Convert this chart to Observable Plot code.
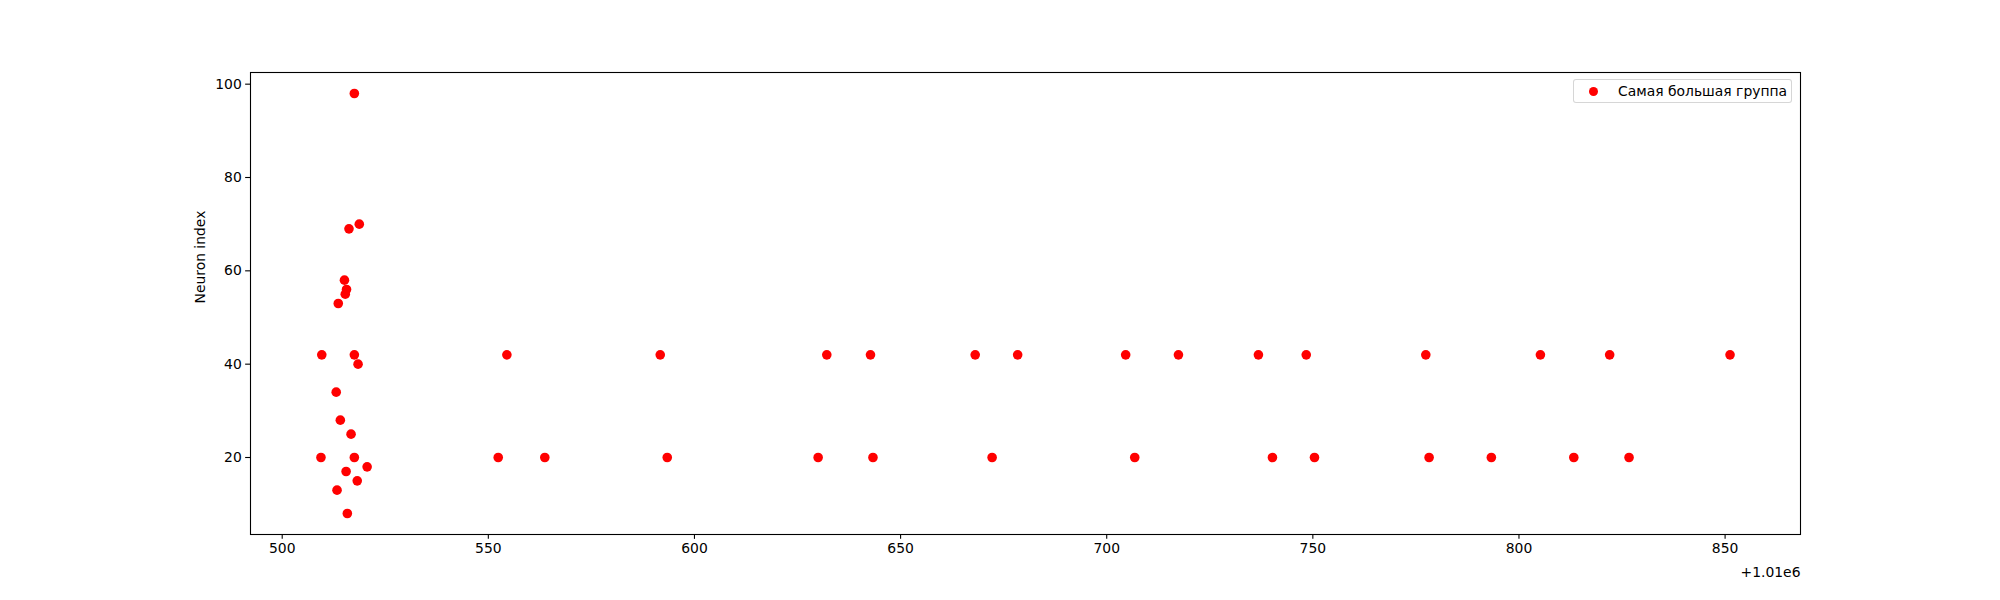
<!DOCTYPE html>
<html>
<head>
<meta charset="utf-8">
<script src="https://cdn.jsdelivr.net/npm/d3@7"></script>
<script src="https://cdn.jsdelivr.net/npm/@observablehq/plot@0.6"></script>
<style>
  html, body { margin: 0; padding: 0; background: #fff; }
  #wrap { position: relative; width: 2000px; height: 600px; font-family: "DejaVu Sans", sans-serif; }
  #legend {
    position: absolute; left: 1573px; top: 79px; width: 219px; height: 24px;
    border: 1px solid rgba(204,204,204,0.8); border-radius: 3px; background: rgba(255,255,255,0.8);
    box-sizing: border-box; font-size: 13.9px; color: #000;
  }
  #legend .sw { position: absolute; left: 14.7px; top: 6.7px; width: 9.6px; height: 9.6px; border-radius: 50%; background: #ff0000; }
  #legend .lb { position: absolute; left: 44px; top: 2px; white-space: nowrap; line-height: 18px; }
</style>
</head>
<body>
<div id="wrap"><div id="legend"><div class="sw"></div><div class="lb"></div></div></div>
<script>
// Time offset shown by the axis (+1.01e6)
const xOffset = 1.01e6;

// Relative spike times (x - 1.01e6) and neuron indices
const relTimes = [
  517.5, 518.7, 516.2, 515.1, 515.6, 515.3, 513.6, 509.6, 517.5, 518.4,
  513.1, 514.1, 516.7, 509.4, 517.5, 520.6, 515.5, 518.2, 513.3, 515.8,
  554.5, 591.7, 632.1, 642.7, 668.1, 678.4, 704.6, 717.4, 736.8, 748.4, 777.4, 805.2, 822.0, 851.2,
  552.4, 563.7, 593.4, 630.0, 643.3, 672.2, 706.8, 740.2, 750.4, 778.2, 793.3, 813.3, 826.7
];
const neurons = [
  98, 70, 69, 58, 56, 55, 53, 42, 42, 40,
  34, 28, 25, 20, 20, 18, 17, 15, 13, 8,
  42, 42, 42, 42, 42, 42, 42, 42, 42, 42, 42, 42, 42, 42,
  20, 20, 20, 20, 20, 20, 20, 20, 20, 20, 20, 20, 20
];

const xTickLabels = [500, 550, 600, 650, 700, 750, 800, 850];
const yTickLabels = [20, 40, 60, 80, 100];
const seriesName = "Самая большая группа";
const yLabel = "Neuron index";
const offsetLabel = "+1.01e6";

const data = relTimes.map((t, i) => ({ t: xOffset + t, n: neurons[i] }));

function padded(ext) {
  const r = ext[1] - ext[0];
  return [ext[0] - 0.05 * r, ext[1] + 0.05 * r];
}

const fs = 13.9;
const tick = 4.86;

const chart = Plot.plot({
  width: 2000,
  height: 600,
  marginLeft: 250,
  marginRight: 200,
  marginTop: 72,
  marginBottom: 66,
  style: { fontFamily: "DejaVu Sans", fontSize: fs + "px", color: "#000", background: "transparent" },
  x: { domain: padded(d3.extent(data, d => d.t)) },
  y: { domain: padded(d3.extent(data, d => d.n)) },
  marks: [
    Plot.axisX({
      ticks: xTickLabels.map(v => v + xOffset),
      tickFormat: d => String(Math.round(d - xOffset)),
      tickSize: tick, tickPadding: tick - 1, strokeWidth: 1.1,
      label: null, fontSize: fs
    }),
    Plot.axisY({
      ticks: yTickLabels,
      tickFormat: d => String(d),
      tickSize: tick, tickPadding: tick - 1, strokeWidth: 1.1,
      label: null, fontSize: fs
    }),
    Plot.dot(data, { x: "t", y: "n", r: 4.8, fill: "#ff0000", stroke: "none" }),
    Plot.frame({ stroke: "#000", strokeWidth: 1.1 }),
    Plot.text([yLabel], { frameAnchor: "left", rotate: -90, dx: -50, fontSize: fs, fill: "#000" }),
    Plot.text([offsetLabel], { frameAnchor: "bottom-right", textAnchor: "end", dy: 42, fontSize: fs, fill: "#000" })
  ]
});

const wrap = document.getElementById("wrap");
chart.style.position = "absolute";
chart.style.left = "0";
chart.style.top = "0";
wrap.insertBefore(chart, wrap.firstChild);
document.querySelector("#legend .lb").textContent = seriesName;
</script>
</body>
</html>
